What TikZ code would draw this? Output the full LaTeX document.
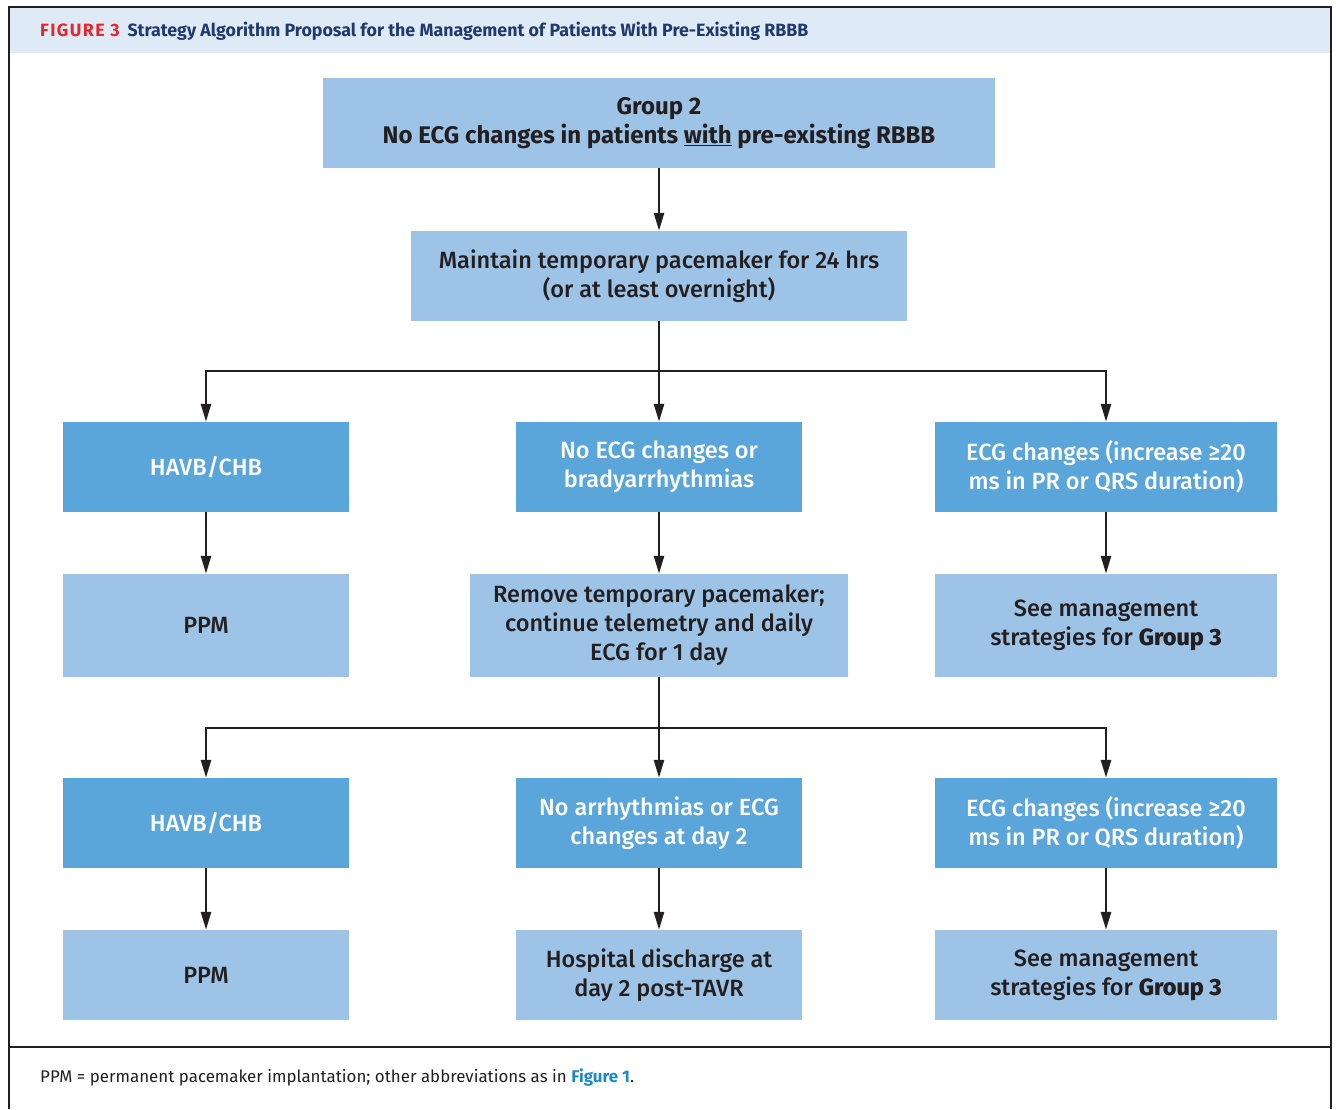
\documentclass[tikz,border=0pt]{standalone}
\usepackage{fontspec}
\setmainfont{Fira Sans}
\newfontfamily\boxfont{Fira Sans Medium}
\usetikzlibrary{arrows.meta}
\definecolor{lightbox}{HTML}{9DC3E6}
\definecolor{darkbox}{HTML}{5AA6DA}
\definecolor{bandblue}{HTML}{DEEAF6}
\definecolor{inkdark}{HTML}{231F20}
\definecolor{titlenavy}{HTML}{1F3A6B}
\definecolor{figred}{HTML}{E3262F}
\definecolor{linkblue}{HTML}{1E88C2}
\begin{document}
\begin{tikzpicture}[x=1pt,y=-1pt,
  boxtext/.style={font=\boxfont\fontsize{23.5}{29}\selectfont, align=center, inner sep=0pt},
  lbox/.style={boxtext, fill=lightbox, text=inkdark},
  dbox/.style={boxtext, fill=darkbox, text=white},
  conn/.style={draw=inkdark, line width=2.6pt, -{Triangle[length=18pt,width=10pt]}},
  plain/.style={draw=inkdark, line width=2.6pt}]
\useasboundingbox (0,0) rectangle (1336,1109);

% header band and frame
\fill[bandblue] (9.5,8) rectangle (1330,53);
\draw[line width=2pt, inkdark] (8.5,1109) -- (8.5,6.5) -- (1331,6.5) -- (1331,1109);
\draw[line width=2pt, inkdark] (8.5,1047) -- (1331,1047);

\node[anchor=west, inner sep=0pt, font=\fontsize{17.8}{20}\selectfont\bfseries] (title) at (40,31)
  {\textcolor{figred}{\addfontfeatures{LetterSpace=8}FIGURE 3}\hspace{8pt}\textcolor{titlenavy}{Strategy Algorithm Proposal for the Management of Patients With Pre-Existing RBBB}};

\node[anchor=west, inner sep=0pt, font=\fontsize{16.9}{19}\selectfont, text=inkdark] (foot) at (40,1078)
  {PPM = permanent pacemaker implantation; other abbreviations as in \textcolor{linkblue}{\bfseries Figure 1}.};

% top level
\node[lbox, minimum width=672pt, minimum height=90pt, font=\fontsize{24}{29}\selectfont\bfseries] (g2) at (659,123)
  {Group 2\\No ECG changes in patients \underline{with} pre-existing RBBB};
\node[lbox, minimum width=496pt, minimum height=90pt] (maint) at (659,276)
  {Maintain temporary pacemaker for 24 hrs\\(or at least overnight)};

% first branching
\node[dbox, minimum width=286pt, minimum height=90pt] (havbA) at (206,467) {HAVB/CHB};
\node[dbox, minimum width=286pt, minimum height=90pt] (noecg) at (659,467) {No ECG changes or\\bradyarrhythmias};
\node[dbox, minimum width=342pt, minimum height=90pt] (ecgA) at (1106,467) {ECG changes (increase ≥20\\ms in PR or QRS duration)};

\node[lbox, minimum width=286pt, minimum height=103pt] (ppmA) at (206,625.5) {PPM};
\node[lbox, minimum width=378pt, minimum height=103pt] (remove) at (659,625.5)
  {Remove temporary pacemaker;\\continue telemetry and daily\\ECG for 1 day};
\node[lbox, minimum width=342pt, minimum height=103pt] (seeA) at (1106,625.5)
  {See management\\strategies for {\bfseries Group 3}};

% second branching
\node[dbox, minimum width=286pt, minimum height=90pt] (havbB) at (206,823) {HAVB/CHB};
\node[dbox, minimum width=286pt, minimum height=90pt] (noarr) at (659,823) {No arrhythmias or ECG\\changes at day 2};
\node[dbox, minimum width=342pt, minimum height=90pt] (ecgB) at (1106,823) {ECG changes (increase ≥20\\ms in PR or QRS duration)};

\node[lbox, minimum width=286pt, minimum height=90pt] (ppmB) at (206,975) {PPM};
\node[lbox, minimum width=286pt, minimum height=90pt] (disch) at (659,975)
  {Hospital discharge at\\day 2 post-TAVR};
\node[lbox, minimum width=342pt, minimum height=90pt] (seeB) at (1106,975)
  {See management\\strategies for {\bfseries Group 3}};

% connectors
\draw[conn] (g2) -- (maint);
\coordinate (splitA) at (659,371);
\draw[plain] (maint.south) -- (splitA);
\draw[conn] (splitA) -| (havbA.north);
\draw[conn] (splitA) -| (ecgA.north);
\draw[conn] (splitA) -- (noecg.north);

\draw[conn] (havbA) -- (ppmA);
\draw[conn] (noecg) -- (remove);
\draw[conn] (ecgA) -- (seeA);

\coordinate (splitB) at (659,728);
\draw[plain] (remove.south) -- (splitB);
\draw[conn] (splitB) -| (havbB.north);
\draw[conn] (splitB) -| (ecgB.north);
\draw[conn] (splitB) -- (noarr.north);

\draw[conn] (havbB) -- (ppmB);
\draw[conn] (noarr) -- (disch);
\draw[conn] (ecgB) -- (seeB);
\end{tikzpicture}
\end{document}
